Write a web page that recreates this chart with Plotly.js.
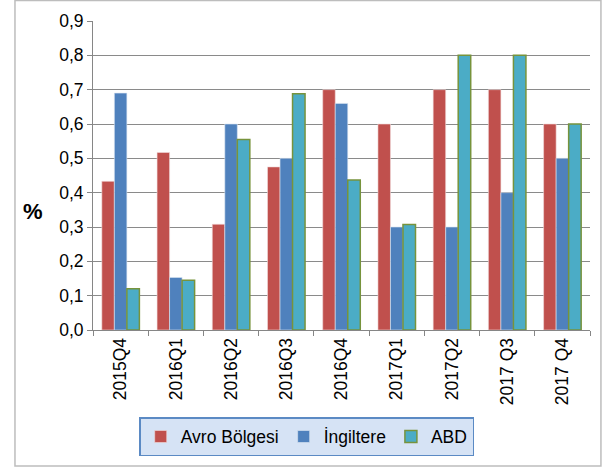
<!DOCTYPE html>
<html><head><meta charset="utf-8">
<script src="https://cdn.plot.ly/plotly-3.0.1.min.js"></script>
<style>body{margin:0;background:#fff}#c{width:609px;height:470px}</style>
</head><body><div id="c"></div>
<script>
const categories = ['2015Q4','2016Q1','2016Q2','2016Q3','2016Q4','2017Q1','2017Q2','2017 Q3','2017 Q4'];
const avro = [0.433, 0.517, 0.308, 0.475, 0.70, 0.60, 0.70, 0.70, 0.60];
const ingiltere = [0.69, 0.153, 0.60, 0.50, 0.66, 0.30, 0.30, 0.40, 0.50];
const abd = [0.12, 0.145, 0.555, 0.688, 0.437, 0.307, 0.80, 0.80, 0.60];
const yTicks = [0,0.1,0.2,0.3,0.4,0.5,0.6,0.7,0.8,0.9];
const yTickText = yTicks.map(v => v.toFixed(1).replace('.', ','));

const font = 'Liberation Sans, Arial, sans-serif';
const traces = [
  {type:'bar', name:'Avro Bölgesi', x:categories, y:avro, marker:{color:'#C0504D', line:{color:'#f2dcdb', width:0.6}}},
  {type:'bar', name:'İngiltere', x:categories, y:ingiltere, marker:{color:'#4F81BD', line:{color:'#dce6f2', width:0.6}}},
  {type:'bar', name:'ABD', x:categories, y:abd, marker:{color:'#4BACC6', line:{color:'#77933C', width:1.5}}}
];
const layout = {
  width:609, height:470,
  margin:{l:93, r:19, t:21, b:140},
  paper_bgcolor:'#fff', plot_bgcolor:'#fff',
  barmode:'group', bargap:0.32, bargroupgap:0,
  font:{family:font, size:17, color:'#000'},
  xaxis:{type:'category', tickangle:-90, tickson:'boundaries', ticks:'outside', ticklen:5, tickcolor:'#868686',
         showline:true, linecolor:'#868686', linewidth:1, showgrid:false, tickfont:{size:17.5, family:font}},
  yaxis:{range:[0,0.9], tickvals:yTicks, ticktext:yTickText, ticks:'outside', ticklen:5, tickcolor:'#868686',
         showline:true, linecolor:'#868686', linewidth:1, showgrid:true, gridcolor:'#8a8a8a', gridwidth:1,
         zeroline:false, tickfont:{size:17.5, family:font}},
  annotations:[{text:'<b>%</b>', xref:'paper', yref:'paper', x:-0.121, y:0.385, xanchor:'center', yanchor:'middle',
                showarrow:false, font:{size:22, family:font, color:'#000'}}],
  showlegend:true,
  legend:{orientation:'h', x:0.43, xanchor:'center', y:-0.282, yanchor:'top',
          bgcolor:'#d6e3f5', bordercolor:'#5b8ac4', borderwidth:1.5, font:{size:17.5, family:font},
          traceorder:'normal', itemwidth:30},
  shapes:[{type:'rect', xref:'paper', yref:'paper', x0:-0.157, x1:1.022, y0:-0.44, y1:1.066,
           line:{color:'#bdbdbd', width:1.5}, fillcolor:'rgba(0,0,0,0)', layer:'below'}]
};
Plotly.newPlot('c', traces, layout, {displayModeBar:false, staticPlot:true});
</script></body></html>
